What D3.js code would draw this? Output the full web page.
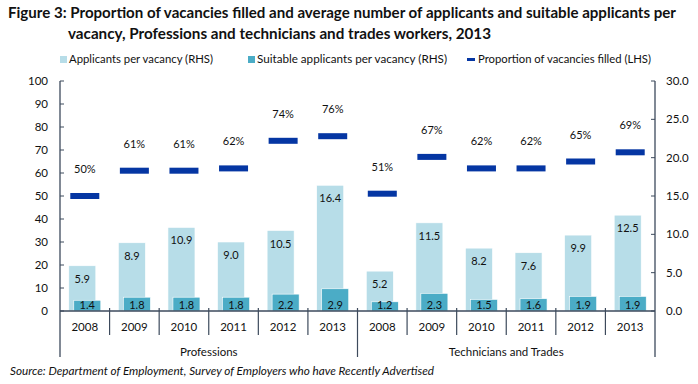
<!DOCTYPE html>
<html><head><meta charset="utf-8">
<script src="https://cdn.jsdelivr.net/npm/d3@7"></script>
<style>
body{margin:0;background:#fff;}
text{font-family:Lato,"Open Sans",sans-serif;fill:#111;}
</style></head>
<body><svg id="c" width="698" height="384"></svg>
<script>
const groups = ["Professions", "Technicians and Trades"];
const years = ["2008","2009","2010","2011","2012","2013"];
const applicantsProf = [5.9, 8.9, 10.9, 9.0, 10.5, 16.4];
const suitableProf = [1.4, 1.8, 1.8, 1.8, 2.2, 2.9];
const filledProf = [50, 61, 61, 62, 74, 76];
const applicantsTech = [5.2, 11.5, 8.2, 7.6, 9.9, 12.5];
const suitableTech = [1.2, 2.3, 1.5, 1.6, 1.9, 1.9];
const filledTech = [51, 67, 62, 62, 65, 69];
const leftTicks = [0,10,20,30,40,50,60,70,80,90,100];
const rightTicks = [0,5,10,15,20,25,30];

const rows = [];
years.forEach((y,i)=>rows.push({g:groups[0],y,key:"P"+y,app:applicantsProf[i],suit:suitableProf[i],fill:filledProf[i]}));
years.forEach((y,i)=>rows.push({g:groups[1],y,key:"T"+y,app:applicantsTech[i],suit:suitableTech[i],fill:filledTech[i]}));

const svg = d3.select("#c");
const L=60, R=655, T=81, B=311;
const x = d3.scaleBand().domain(rows.map(d=>d.key)).range([L,R]);
const yL = d3.scaleLinear().domain([0,100]).range([B,T]);
const yR = d3.scaleLinear().domain([0,30]).range([B,T]);
const axisCol = "#3d4a5c";
const cLight="#b7dde8", cDark="#4bacc6", cDash="#0536a3";

// title
svg.append("text").attr("x",8).attr("y",18).attr("font-size",15.5).attr("font-weight","bold")
  .attr("textLength",668).attr("lengthAdjust","spacingAndGlyphs")
  .text("Figure 3: Proportion of vacancies filled and average number of applicants and suitable applicants per");
svg.append("text").attr("x",68).attr("y",39).attr("font-size",15.5).attr("font-weight","bold")
  .attr("textLength",423).attr("lengthAdjust","spacingAndGlyphs")
  .text("vacancy, Professions and technicians and trades workers, 2013");

// legend
const lg = svg.append("g").attr("font-size",11);
lg.append("rect").attr("x",60).attr("y",56).attr("width",7).attr("height",7).attr("fill",cLight);
lg.append("text").attr("x",69).attr("y",63).attr("textLength",144).attr("lengthAdjust","spacingAndGlyphs").text("Applicants per vacancy (RHS)");
lg.append("rect").attr("x",248).attr("y",56).attr("width",7).attr("height",7).attr("fill",cDark);
lg.append("text").attr("x",257).attr("y",63).attr("textLength",190).attr("lengthAdjust","spacingAndGlyphs").text("Suitable applicants per vacancy (RHS)");
lg.append("rect").attr("x",467).attr("y",58).attr("width",8).attr("height",3).attr("fill",cDash);
lg.append("text").attr("x",478).attr("y",63).attr("textLength",173).attr("lengthAdjust","spacingAndGlyphs").text("Proportion of vacancies filled (LHS)");

// bars
const bw = 27;
const bars = svg.append("g");
bars.selectAll(".app").data(rows).join("rect").attr("class","app")
  .attr("x",d=>x(d.key)+x.bandwidth()/2-2.5-bw/2).attr("width",bw)
  .attr("y",d=>yR(d.app)).attr("height",d=>yR(0)-yR(d.app))
  .attr("fill",cLight).attr("stroke","#fff").attr("stroke-width",0.6);
bars.selectAll(".suit").data(rows).join("rect").attr("class","suit")
  .attr("x",d=>x(d.key)+x.bandwidth()/2+2.5-bw/2).attr("width",bw)
  .attr("y",d=>yR(d.suit)).attr("height",d=>yR(0)-yR(d.suit))
  .attr("fill",cDark).attr("stroke","#fff").attr("stroke-width",0.6);
// labels
svg.append("g").attr("font-size",11).attr("text-anchor","middle").selectAll("text").data(rows).join("text")
  .attr("x",d=>x(d.key)+x.bandwidth()/2-2.5).attr("y",d=>yR(d.app)+17).text(d=>d.app.toFixed(1));
svg.append("g").attr("font-size",11).attr("text-anchor","middle").selectAll("text").data(rows).join("text")
  .attr("x",d=>x(d.key)+x.bandwidth()/2+2.5).attr("y",B-2).text(d=>d.suit.toFixed(1));
// dashes
svg.append("g").selectAll("rect").data(rows).join("rect")
  .attr("x",d=>x(d.key)+x.bandwidth()/2-14.5).attr("width",29)
  .attr("y",d=>yL(d.fill)-3).attr("height",6).attr("fill",cDash);
svg.append("g").attr("font-size",11).attr("text-anchor","middle").selectAll("text").data(rows).join("text")
  .attr("x",d=>x(d.key)+x.bandwidth()/2).attr("y",d=>yL(d.fill)-23).text(d=>d.fill+"%");

// left axis
const ax = svg.append("g");
ax.append("line").attr("x1",L).attr("x2",L).attr("y1",T).attr("y2",357).attr("stroke",axisCol).attr("stroke-width",1.3);
ax.selectAll(".lt").data(leftTicks).join("line").attr("x1",L).attr("x2",L+4).attr("y1",d=>yL(d)).attr("y2",d=>yL(d)).attr("stroke",axisCol);
ax.selectAll(".ll").data(leftTicks).join("text").attr("x",48).attr("y",d=>yL(d)+4).attr("text-anchor","end").attr("font-size",11.5).text(d=>d);
// right axis
ax.append("line").attr("x1",R).attr("x2",R).attr("y1",T).attr("y2",357).attr("stroke",axisCol).attr("stroke-width",1.3);
ax.selectAll(".rt").data(rightTicks).join("line").attr("x1",R-4).attr("x2",R).attr("y1",d=>yR(d)).attr("y2",d=>yR(d)).attr("stroke",axisCol);
ax.selectAll(".rl").data(rightTicks).join("text").attr("x",666).attr("y",d=>yR(d)+4).attr("font-size",11.5).text(d=>d.toFixed(1));
// category axis
ax.append("line").attr("x1",L).attr("x2",R).attr("y1",B).attr("y2",B).attr("stroke",axisCol).attr("stroke-width",1.3);
const bounds = rows.map(d=>x(d.key)).slice(1);
ax.selectAll(".ct").data(bounds).join("line").attr("x1",d=>d).attr("x2",d=>d).attr("y1",B-3)
  .attr("y2",(d,i)=>i===5?357:335).attr("stroke",axisCol).attr("stroke-width",1.2);
ax.selectAll(".cl").data(rows).join("text").attr("x",d=>x(d.key)+x.bandwidth()/2).attr("y",331)
  .attr("text-anchor","middle").attr("font-size",11.5).text(d=>d.y);
ax.selectAll(".gl").data(groups).join("text")
  .attr("x",(g,i)=>{const ks=rows.filter(r=>r.g===g).map(r=>x(r.key));return (d3.min(ks)+d3.max(ks)+x.bandwidth())/2;})
  .attr("y",356).attr("text-anchor","middle").attr("font-size",11.5).text(d=>d);

// source
svg.append("text").attr("x",10).attr("y",375).attr("font-size",11).attr("font-style","italic")
  .attr("textLength",424).attr("lengthAdjust","spacingAndGlyphs")
  .text("Source: Department of Employment, Survey of Employers who have Recently Advertised");
</script></body></html>
